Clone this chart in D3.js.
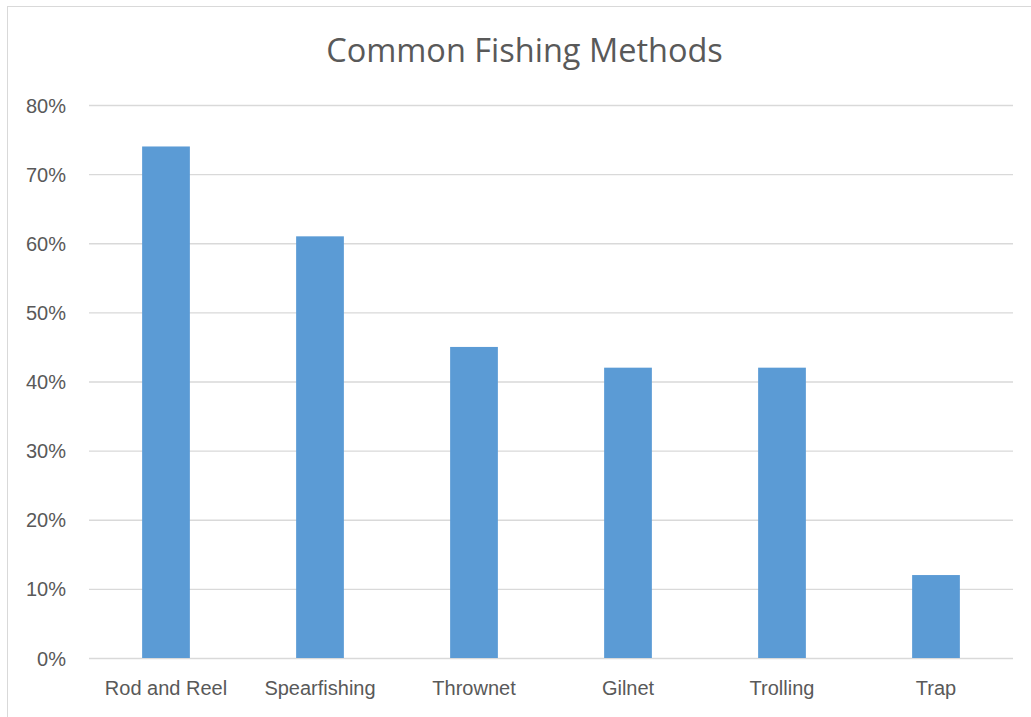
<!DOCTYPE html>
<html>
<head>
<meta charset="utf-8">
<script src="https://cdn.jsdelivr.net/npm/d3@7"></script>
<style>
  html, body { margin: 0; padding: 0; background: #fff; }
  svg { display: block; font-family: "Open Sans", "Segoe UI", sans-serif; }
</style>
</head>
<body>
<svg id="chart" width="1031" height="717"></svg>
<script>
// Share of respondents using each fishing method
const methods = ["Rod and Reel", "Spearfishing", "Thrownet", "Gilnet", "Trolling", "Trap"];
const shares = [0.74, 0.61, 0.45, 0.42, 0.42, 0.12];
const yTicks = [0, 0.1, 0.2, 0.3, 0.4, 0.5, 0.6, 0.7, 0.8];
const chartTitle = "Common Fishing Methods";

const svg = d3.select("#chart");
const textColor = "#595959";
const gridColor = "#d9d9d9";
const barColor = "#5b9bd5";

// chart frame
svg.append("rect")
  .attr("x", 7.5).attr("y", 6.5)
  .attr("width", 1100).attr("height", 800)
  .attr("fill", "#fff")
  .attr("stroke", "#d9d9d9")
  .attr("stroke-width", 1);

const plot = { left: 89, right: 1013, top: 105, bottom: 658 };

const x = d3.scaleBand()
  .domain(methods)
  .range([plot.left, plot.right])
  .paddingInner(0.69)
  .paddingOuter(0.345);

const y = d3.scaleLinear()
  .domain([0, 0.8])
  .range([plot.bottom, plot.top]);

// horizontal gridlines + y tick labels
const yAxis = d3.axisLeft(y)
  .tickValues(yTicks)
  .tickFormat(d3.format(".0%"))
  .tickSize(-(plot.right - plot.left))
  .tickPadding(23);

const gy = svg.append("g")
  .attr("transform", `translate(${plot.left},0)`)
  .call(yAxis);
gy.select(".domain").remove();
gy.selectAll(".tick line").attr("stroke", gridColor).attr("stroke-width", 1.3);
gy.selectAll(".tick text")
  .attr("fill", textColor)
  .attr("font-size", 20)
  .attr("dy", "0.35em");

// bars
svg.append("g")
  .selectAll("rect")
  .data(methods.map((m, i) => ({ m, v: shares[i] })))
  .join("rect")
  .attr("x", d => x(d.m))
  .attr("y", d => y(d.v))
  .attr("width", x.bandwidth())
  .attr("height", d => y(0) - y(d.v))
  .attr("fill", barColor);

// category axis
const xAxis = d3.axisBottom(x).tickSize(0).tickPadding(23);
const gx = svg.append("g")
  .attr("transform", `translate(0,${plot.bottom})`)
  .call(xAxis);
gx.select(".domain").remove();
gx.selectAll(".tick text")
  .attr("fill", textColor)
  .attr("font-size", 20);

// title
svg.append("text")
  .attr("x", 524.5)
  .attr("y", 62)
  .attr("text-anchor", "middle")
  .attr("fill", textColor)
  .attr("font-size", 32.5)
  .text(chartTitle);
</script>
</body>
</html>
